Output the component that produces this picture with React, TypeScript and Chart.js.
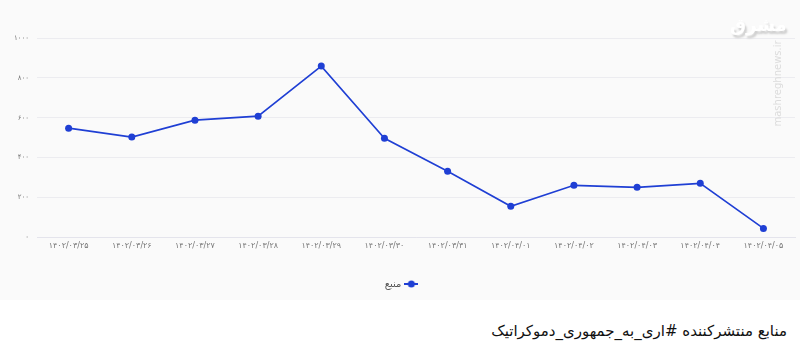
import React, { useEffect, useRef } from "react";
import { Chart, registerables } from "chart.js";

Chart.register(...registerables);

const categories = [
  "۱۴۰۲/۰۳/۲۵",
  "۱۴۰۲/۰۳/۲۶",
  "۱۴۰۲/۰۳/۲۷",
  "۱۴۰۲/۰۳/۲۸",
  "۱۴۰۲/۰۳/۲۹",
  "۱۴۰۲/۰۳/۳۰",
  "۱۴۰۲/۰۳/۳۱",
  "۱۴۰۲/۰۴/۰۱",
  "۱۴۰۲/۰۴/۰۲",
  "۱۴۰۲/۰۴/۰۳",
  "۱۴۰۲/۰۴/۰۴",
  "۱۴۰۲/۰۴/۰۵",
];
const seriesName = "منبع";
const values = [548, 503, 588, 608, 859, 497, 332, 156, 261, 251, 271, 45];
const yTicks = [0, 200, 400, 600, 800, 1000];
const caption = "منابع منتشرکننده #اری_به_جمهوری_دموکراتیک";

const BLUE = "#1f3fd4";
const toFa = (n: number) =>
  String(n).replace(/[0-9]/g, (d) => "۰۱۲۳۴۵۶۷۸۹"[Number(d)]);

function legendIcon(): HTMLCanvasElement {
  const c = document.createElement("canvas");
  c.width = 14;
  c.height = 8;
  const ctx = c.getContext("2d")!;
  ctx.strokeStyle = BLUE;
  ctx.lineWidth = 2;
  ctx.beginPath();
  ctx.moveTo(0, 4);
  ctx.lineTo(14, 4);
  ctx.stroke();
  ctx.fillStyle = BLUE;
  ctx.beginPath();
  ctx.arc(7, 4, 3.5, 0, Math.PI * 2);
  ctx.fill();
  return c;
}

export default function App() {
  const ref = useRef<HTMLCanvasElement>(null);
  useEffect(() => {
    if (!ref.current) return;
    const icon = legendIcon();
    const chart = new Chart(ref.current, {
      type: "line",
      data: {
        labels: categories,
        datasets: [
          {
            label: seriesName,
            data: values,
            borderColor: BLUE,
            backgroundColor: BLUE,
            borderWidth: 1.6,
            pointRadius: 3.5,
            pointBackgroundColor: BLUE,
            pointBorderColor: BLUE,
            pointBorderWidth: 0,
            tension: 0,
          },
        ],
      },
      options: {
        animation: false,
        responsive: false,
        maintainAspectRatio: false,
        layout: { padding: { top: 38, right: 5, left: 6, bottom: 1 } },
        plugins: {
          tooltip: { enabled: false },
          legend: {
            position: "bottom",
            rtl: true,
            labels: {
              usePointStyle: true,
              color: "#555",
              font: { family: "DejaVu Sans", size: 10 },
              padding: 24,
              generateLabels: (ch: any) =>
                ch.data.datasets.map((ds: any, i: number) => ({
                  text: ds.label,
                  pointStyle: icon,
                  fillStyle: BLUE,
                  strokeStyle: BLUE,
                  lineWidth: 0,
                  hidden: false,
                  datasetIndex: i,
                  fontColor: "#555",
                })),
            },
          },
        },
        scales: {
          x: {
            offset: true,
            grid: { display: false, drawTicks: false },
            border: { display: true, color: "#e4e4ec" },
            ticks: {
              color: "#777",
              font: { family: "DejaVu Sans", size: 8 },
              padding: 4,
              maxRotation: 0,
              autoSkip: false,
            },
          },
          y: {
            min: 0,
            max: 1000,
            afterBuildTicks: (axis: any) => {
              axis.ticks = yTicks.map((v) => ({ value: v }));
            },
            grid: { color: "#ececf0", drawTicks: false },
            border: { display: false },
            ticks: {
              color: "#777",
              font: { family: "DejaVu Sans", size: 7 },
              padding: 8,
              callback: (v: any) => toFa(Number(v)),
            },
          },
        },
      },
    });
    return () => chart.destroy();
  }, []);

  return (
    <div
      style={{
        position: "fixed",
        left: 0,
        top: 0,
        width: 800,
        height: 348,
        background: "#ffffff",
        overflow: "hidden",
      }}
    >
      <div
        style={{
          position: "absolute",
          left: 0,
          top: 0,
          width: 800,
          height: 300,
          background: "#fafafa",
        }}
      >
        <canvas ref={ref} width={800} height={300} style={{ display: "block" }} />
        <div
          style={{
            position: "absolute",
            left: 730,
            top: 14,
            fontFamily: "DejaVu Sans",
            fontSize: 18,
            fontWeight: "bold",
            color: "#ffffff",
            textShadow: "2px 3px 2px #cfcfcf",
            direction: "rtl",
          }}
        >
          مشرق
        </div>
        <div
          style={{
            position: "absolute",
            left: 722,
            top: 66,
            width: 110,
            transform: "rotate(-90deg)",
            fontFamily: "DejaVu Sans",
            fontSize: 10,
            color: "#dcdcdc",
            whiteSpace: "nowrap",
          }}
        >
          mashreghnews.ir
        </div>
      </div>
      <div
        style={{
          position: "absolute",
          right: 13,
          top: 322,
          direction: "rtl",
          fontFamily: "DejaVu Sans",
          fontSize: 15,
          color: "#111",
          whiteSpace: "nowrap",
        }}
      >
        {caption}
      </div>
    </div>
  );
}
